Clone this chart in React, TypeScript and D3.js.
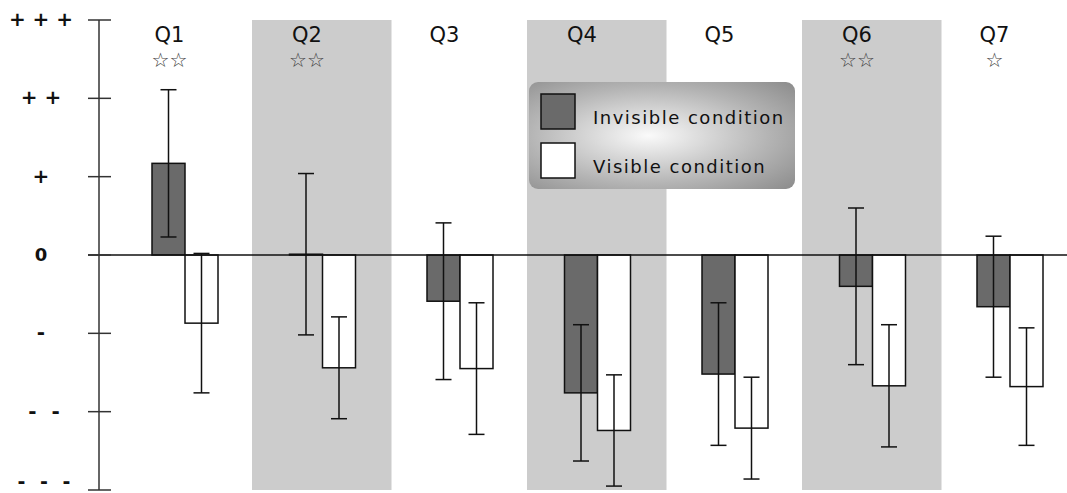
import React from "react";
import * as d3 from "d3";

const categories = ["Q1", "Q2", "Q3", "Q4", "Q5", "Q6", "Q7"];
const stars = ["☆☆", "☆☆", "", "", "", "☆☆", "☆"];
const invisibleMean = [1.17, 0.01, -0.59, -1.76, -1.52, -0.4, -0.66];
const invisibleErr = [0.94, 1.03, 1.0, 0.87, 0.91, 1.0, 0.9];
const visibleMean = [-0.87, -1.44, -1.45, -2.24, -2.21, -1.67, -1.68];
const visibleErr = [0.89, 0.65, 0.84, 0.71, 0.65, 0.78, 0.75];
const tickValues = [3, 2, 1, 0, -1, -2, -3];
const tickLabels = ["+ + +", "+ +", "+", "0", "-", "- -", "- - -"];
const legendLabels = ["Invisible condition", "Visible condition"];

const W = 1067;
const H = 493;
const FONT = "'DejaVu Sans', sans-serif";

export default function App() {
  const y = d3.scaleLinear().domain([-3, 3]).range([490, 20]);
  const x = d3.scaleBand().domain(categories).range([114.5, 1077]).paddingInner(0).paddingOuter(0);
  const bw = 33;
  const axisX = 99;

  const bar = (cat: string, i: number, k: number, mean: number, err: number, fill: string) => {
    const x0 = (x(cat) as number) + 37.5 + k * bw;
    const yTop = y(Math.max(0, mean));
    const yBot = y(Math.min(0, mean));
    const cx = x0 + bw / 2;
    return (
      <g key={cat + k}>
        <rect x={x0} y={yTop} width={bw} height={Math.max(0.5, yBot - yTop)} fill={fill} stroke="#111" strokeWidth={1.5} />
        <line x1={cx} x2={cx} y1={y(mean + err)} y2={y(mean - err)} stroke="#111" strokeWidth={1.5} />
        <line x1={cx - 8} x2={cx + 8} y1={y(mean + err)} y2={y(mean + err)} stroke="#111" strokeWidth={1.5} />
        <line x1={cx - 8} x2={cx + 8} y1={y(mean - err)} y2={y(mean - err)} stroke="#111" strokeWidth={1.5} />
      </g>
    );
  };

  const tickX = (t: number) => (t <= -2 ? 46 : 41);

  return (
    <svg width={W} height={H} style={{ position: "absolute", left: 0, top: 0, background: "#fff" }} fontFamily={FONT}>
      <defs>
        <radialGradient id="lg" cx="0.45" cy="0.5" r="0.75">
          <stop offset="0" stopColor="#fafafa" />
          <stop offset="0.6" stopColor="#b4b4b4" />
          <stop offset="1" stopColor="#8a8a8a" />
        </radialGradient>
      </defs>
      {categories.map((c, i) =>
        i % 2 === 1 ? (
          <rect key={"b" + c} x={x(c) as number} y={y(3)} width={x.bandwidth() + 2} height={y(-3) - y(3)} fill="#cccccc" />
        ) : null
      )}
      {categories.map((c, i) => (
        <g key={"l" + c}>
          <text x={(x(c) as number) + 55} y={42} textAnchor="middle" fontSize={21} fill="#111">{c}</text>
          <text x={(x(c) as number) + 55} y={67} textAnchor="middle" fontSize={20} fill="#444">{stars[i]}</text>
        </g>
      ))}
      {categories.map((c, i) => bar(c, i, 0, invisibleMean[i], invisibleErr[i], "#6a6a6a"))}
      {categories.map((c, i) => bar(c, i, 1, visibleMean[i], visibleErr[i], "#ffffff"))}
      <line x1={88} x2={W} y1={y(0)} y2={y(0)} stroke="#111" strokeWidth={1.5} />
      <line x1={axisX} x2={axisX} y1={y(3)} y2={y(-3)} stroke="#333" strokeWidth={1.5} />
      {tickValues.map((t, i) => (
        <g key={"t" + t}>
          <line x1={88} x2={111} y1={y(t)} y2={y(t)} stroke="#333" strokeWidth={1.5} />
          <text
            x={tickX(t)}
            y={y(t) + (t === -3 ? -2 : 6)}
            textAnchor="middle"
            fontSize={t === 0 ? 18 : t === -3 ? 19 : 20}
            fontWeight="bold"
            letterSpacing={t <= -2 ? 4 : 0}
            fill="#111"
          >
            {tickLabels[i]}
          </text>
        </g>
      ))}
      <g>
        <rect x={529} y={82} width={266} height={107} rx={9} fill="url(#lg)" />
        <rect x={541} y={94} width={34} height={35} fill="#6a6a6a" stroke="#111" strokeWidth={1.5} />
        <rect x={541} y={143} width={34} height={35} fill="#ffffff" stroke="#111" strokeWidth={1.5} />
        <text x={593} y={124} fontSize={18} letterSpacing={1.5} fill="#111">{legendLabels[0]}</text>
        <text x={593} y={173} fontSize={18} letterSpacing={1.5} fill="#111">{legendLabels[1]}</text>
      </g>
    </svg>
  );
}
